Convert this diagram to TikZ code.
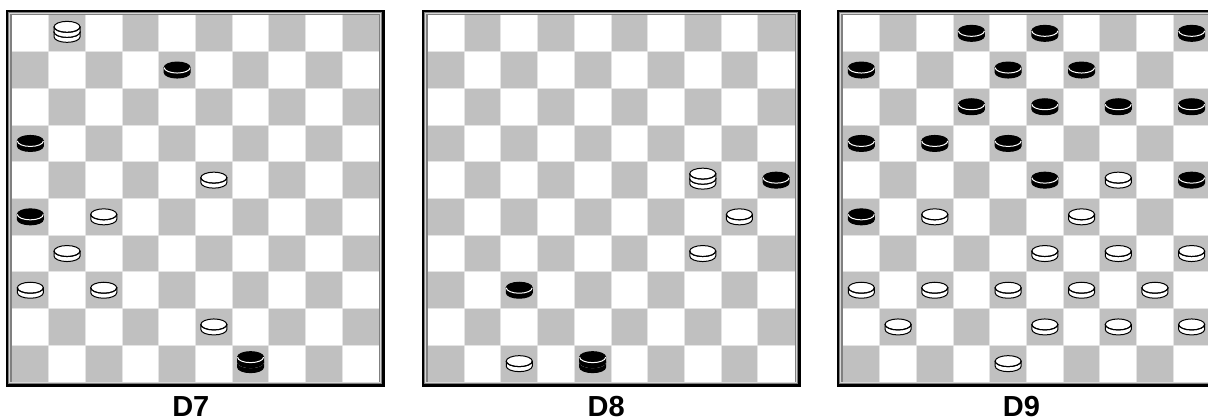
\documentclass[tikz,border=0pt]{standalone}
\usepackage{fontspec}
\setmainfont{Liberation Sans}
\definecolor{boardgray}{HTML}{C0C0C0}
\definecolor{gridgray}{HTML}{E4E4E4}
\definecolor{framegray}{HTML}{808080}
\definecolor{framelight}{HTML}{D8D8D8}

\tikzset{
  boardlabel/.style={font=\bfseries\fontsize{29}{29}\selectfont, inner sep=0pt},
  piece line/.style={line width=1pt},
}

% one disc of a piece: centre x, top y, fill, seam colour
\newcommand{\layer}[4]{%
  \filldraw[piece line, fill=#3, draw=black] ({#1-13},{#2}) -- ++(0,5) arc[start angle=180, end angle=360, x radius=13pt, y radius=5.5pt] -- ++(0,-5) -- cycle;
  \filldraw[piece line, fill=#3, draw=black] ({#1},{#2}) ellipse[x radius=13pt, y radius=5.5pt];
  \draw[piece line, #4] ({#1-13},{#2}) arc[start angle=180, end angle=360, x radius=13pt, y radius=5.5pt];
}
\newcommand{\man}[5]{\layer{12+#1+(#2+0.5)*36.7}{15+(#3+0.5)*36.7-2.5}{#4}{#5}}
\newcommand{\king}[5]{%
  \layer{12+#1+(#2+0.5)*36.7}{15+(#3+0.5)*36.7-1.5}{#4}{#5}%
  \layer{12+#1+(#2+0.5)*36.7}{15+(#3+0.5)*36.7-6.5}{#4}{#5}}

\newcommand{\drawboard}[1]{%
  \fill[black] ({6+#1},10) rectangle ({385+#1},387);
  \fill[framegray] ({8+#1},12) rectangle ({382+#1},384);
  \draw[framelight, line width=1pt] ({9.5+#1},13.5) rectangle ({380.5+#1},383);
  \fill[white] ({12+#1},15) rectangle ({379+#1},382);
  \foreach \r in {0,...,9}{\foreach \c in {0,...,9}{%
    \pgfmathtruncatemacro{\dark}{mod(\r+\c,2)}%
    \ifnum\dark=1 \fill[boardgray] ({12+#1+\c*36.7},{15+\r*36.7}) rectangle ++(36.7,36.7);\fi}}
  \foreach \i in {1,...,9}{%
    \draw[gridgray, line width=1pt] ({12+#1+\i*36.7},15) -- ++(0,367);
    \draw[gridgray, line width=1pt] ({12+#1},{15+\i*36.7}) -- ++(367,0);}
}

\begin{document}
\begin{tikzpicture}[x=1pt, y=-1pt]
  \useasboundingbox (0,0) rectangle (1208,419);
  \clip (0,0) rectangle (1208,419);
  \fill[white] (0,0) rectangle (1208,419);

  % boards
  \foreach \ox in {0,415.5,831} {\drawboard{\ox}}

  % D7
  \foreach \c/\r in {5/4,2/5,1/6,0/7,2/7,5/8} {\man{0}{\c}{\r}{white}{black}}
  \foreach \c/\r in {4/1,0/3,0/5} {\man{0}{\c}{\r}{black}{white}}
  \king{0}{1}{0}{white}{black}
  \king{0}{6}{9}{black}{white}

  % D8
  \foreach \c/\r in {8/5,7/6,2/9} {\man{415.5}{\c}{\r}{white}{black}}
  \foreach \c/\r in {9/4,2/7} {\man{415.5}{\c}{\r}{black}{white}}
  \king{415.5}{7}{4}{white}{black}
  \king{415.5}{4}{9}{black}{white}

  % D9
  \foreach \c/\r in {3/0,5/0,9/0,0/1,4/1,6/1,3/2,5/2,7/2,9/2,0/3,2/3,4/3,5/4,9/4,0/5}
    {\man{831}{\c}{\r}{black}{white}}
  \foreach \c/\r in {7/4,2/5,6/5,5/6,7/6,9/6,0/7,2/7,4/7,6/7,8/7,1/8,5/8,7/8,9/8,4/9}
    {\man{831}{\c}{\r}{white}{black}}

  % captions
  \foreach \i/\t in {0/D7,1/D8,2/D9}
    \node[boardlabel] (\t) at ({190.8+415.3*\i},406.5) {\t};
\end{tikzpicture}
\end{document}
